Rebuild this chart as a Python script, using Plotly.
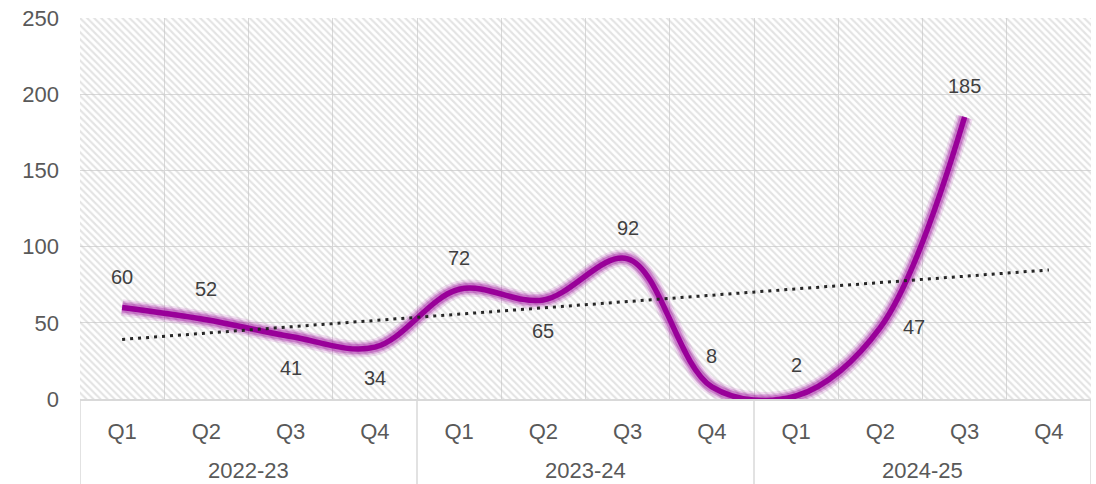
import numpy as np
import plotly.graph_objects as go

years = ["2022-23", "2023-24", "2024-25"]
quarters = ["Q1", "Q2", "Q3", "Q4"]
values = [60, 52, 41, 34, 72, 65, 92, 8, 2, 47, 185, None]
label_pos = ["above", "above", "below", "below", "above", "below", "above",
             "above", "above", "right", "above", None]

n = len(years) * len(quarters)
xs = list(range(n))
tick_text = [q for _ in years for q in quarters]

purple = "#990099"
text_col = "#595959"
grid_col = "#d9d9d9"
font_family = "Liberation Sans, Arial, sans-serif"

fig = go.Figure()

# hatched plot background
fig.add_trace(go.Scatter(
    x=[-0.5, 11.5, 11.5, -0.5, -0.5], y=[0, 0, 250, 250, 0],
    fill="toself", mode="none", hoverinfo="skip", showlegend=False,
    fillcolor="rgba(255,255,255,0)",
    fillpattern=dict(shape="\\", fgcolor="#c8c8c8", bgcolor="rgba(255,255,255,0)",
                     size=5, solidity=0.42),
))

vx = [x for x, v in zip(xs, values) if v is not None]
vy = [v for v in values if v is not None]

# glow layers
for w, a in [(17, 0.12), (13, 0.2), (10, 0.3)]:
    fig.add_trace(go.Scatter(
        x=vx, y=vy, mode="lines", hoverinfo="skip", showlegend=False,
        line=dict(color=f"rgba(153,0,153,{a})", width=w, shape="spline", smoothing=1),
    ))
fig.add_trace(go.Scatter(
    x=vx, y=vy, mode="lines", showlegend=False,
    line=dict(color=purple, width=5.5, shape="spline", smoothing=1),
))

# linear trendline
slope, intercept = np.polyfit(np.array(vx) + 1, np.array(vy), 1)
tx = np.array(xs)
ty = slope * (tx + 1) + intercept
fig.add_trace(go.Scatter(
    x=tx, y=ty, mode="lines", showlegend=False, hoverinfo="skip",
    line=dict(color="#262626", width=3, dash="3px,5px"),
))

# data labels
for x, v, p in zip(xs, values, label_pos):
    if v is None:
        continue
    xs_, ys_ = 0, 0
    if p == "above":
        ys_ = 31
    elif p == "below":
        ys_ = -31
    else:
        xs_ = 34
    fig.add_annotation(x=x, y=v, text=str(v), showarrow=False, xshift=xs_, yshift=ys_,
                       font=dict(size=20, color="#404040", family=font_family))

# year labels and dividers
plot_h = 484 - 18 - 85
for i, yr in enumerate(years):
    fig.add_annotation(x=i * 4 + 1.5, y=-(470 - 399) / plot_h, xref="x", yref="paper",
                       text=yr, showarrow=False, yanchor="middle",
                       font=dict(size=22, color=text_col, family=font_family))
for b in [-0.5, 3.5, 7.5, 11.5]:
    fig.add_shape(type="line", x0=b, x1=b, y0=0, y1=-85 / plot_h, xref="x", yref="paper",
                  line=dict(color=grid_col, width=1.5), layer="above")

fig.update_layout(
    width=1096, height=484,
    margin=dict(l=80, r=5, t=18, b=85, autoexpand=False),
    paper_bgcolor="white", plot_bgcolor="white",
    font=dict(family=font_family, color=text_col),
    xaxis=dict(range=[-0.5, 11.5], tickmode="array", tickvals=xs, ticktext=tick_text,
               automargin=False,
               showgrid=False, zeroline=False, showline=True, linecolor=grid_col, linewidth=1.5,
               tickfont=dict(size=22, color=text_col), ticks="", ticklabelstandoff=12,
               minor=dict(tickmode="array", tickvals=[x + 0.5 for x in range(-1, 12)],
                          showgrid=True, gridcolor=grid_col, gridwidth=1.2)),
    yaxis=dict(range=[0, 250], tickmode="linear", tick0=0, dtick=50, showgrid=True,
               automargin=False,
               gridcolor=grid_col, gridwidth=1.2, zeroline=False, showline=False,
               tickfont=dict(size=22, color=text_col), ticks="", ticklabelstandoff=20),
)

fig.write_html("out.html", config={"displayModeBar": False},
               post_script="document.body.style.margin='0';")
